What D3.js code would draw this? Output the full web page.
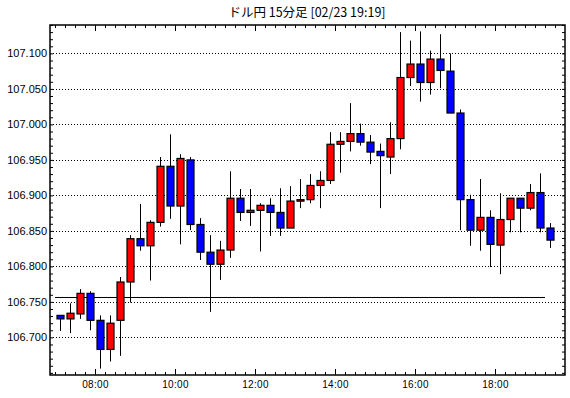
<!DOCTYPE html>
<html>
<head>
<meta charset="utf-8">
<script src="https://cdn.jsdelivr.net/npm/d3@7"></script>
<style>
  body { margin: 0; background: #fff; }
  svg { display: block; }
</style>
</head>
<body>
<div id="chart"></div>
<script>
// 15-minute USD/JPY candles, 07:00 .. 19:15
const times = ['07:00','07:15','07:30','07:45','08:00','08:15','08:30','08:45','09:00','09:15',
  '09:30','09:45','10:00','10:15','10:30','10:45','11:00','11:15','11:30','11:45',
  '12:00','12:15','12:30','12:45','13:00','13:15','13:30','13:45','14:00','14:15',
  '14:30','14:45','15:00','15:15','15:30','15:45','16:00','16:15','16:30','16:45',
  '17:00','17:15','17:30','17:45','18:00','18:15','18:30','18:45','19:00','19:15'];
const opens = [106.731,106.726,106.733,106.762,106.724,106.683,106.724,106.778,106.839,106.829,
  106.862,106.941,106.885,106.950,106.859,106.820,106.803,106.823,106.896,106.876,
  106.879,106.886,106.876,106.854,106.892,106.894,106.914,106.921,106.972,106.976,
  106.987,106.975,106.962,106.954,106.980,107.066,107.085,107.059,107.092,107.075,
  107.016,106.894,106.851,106.869,106.830,106.866,106.896,106.882,106.904,106.854];
const highs = [106.731,106.748,106.768,106.765,106.731,106.731,106.785,106.844,106.888,106.865,
  106.954,106.986,106.958,106.954,106.868,106.844,106.836,106.934,106.909,106.909,
  106.889,106.896,106.910,106.913,106.923,106.930,106.934,106.989,106.989,107.030,
  107.001,106.985,106.973,107.003,107.130,107.118,107.131,107.104,107.127,107.100,
  107.021,106.901,106.923,106.879,106.903,106.896,106.896,106.916,106.931,106.861];
const lows = [106.709,106.706,106.726,106.710,106.656,106.666,106.674,106.749,106.822,106.780,
  106.856,106.867,106.831,106.851,106.809,106.736,106.781,106.812,106.864,106.857,
  106.821,106.843,106.843,106.854,106.882,106.889,106.882,106.916,106.932,106.962,
  106.970,106.944,106.882,106.930,106.965,107.054,107.032,107.042,107.051,107.016,
  106.851,106.829,106.822,106.799,106.789,106.848,106.848,106.879,106.848,106.826];
const closes = [106.726,106.734,106.762,106.724,106.683,106.720,106.778,106.839,106.829,106.862,
  106.941,106.885,106.952,106.859,106.820,106.803,106.823,106.896,106.876,106.879,
  106.886,106.876,106.854,106.892,106.894,106.914,106.921,106.972,106.976,106.987,
  106.975,106.961,106.956,106.980,107.066,107.085,107.059,107.092,107.076,107.016,
  106.894,106.851,106.869,106.831,106.866,106.896,106.882,106.904,106.854,106.837];

const refLevel = 106.757;
const yTicks = [106.700, 106.750, 106.800, 106.850, 106.900, 106.950, 107.000, 107.050, 107.100];
const xTickLabels = ['08:00', '10:00', '12:00', '14:00', '16:00', '18:00'];
const title = 'ドル円 15分足 [02/23 19:19]';

const width = 570, height = 398;
const plot = { left: 50, right: 565, top: 25, bottom: 375 };

const toMin = s => { const p = s.split(':'); return +p[0] * 60 + +p[1]; };

const x = d3.scaleLinear().domain([412.5, 1185]).range([plot.left, plot.right]);
const y = d3.scaleLinear().domain([106.647, 107.140]).range([plot.bottom, plot.top]);

const svg = d3.select('#chart').append('svg')
  .attr('width', width)
  .attr('height', height)
  .style('font-family', '"DejaVu Sans", sans-serif');

// title
svg.append('text')
  .attr('x', 307)
  .attr('y', 17)
  .attr('text-anchor', 'middle')
  .style('font-family', '"Noto Sans CJK JP", sans-serif')
  .style('font-size', '12.5px')
  .text(title);

// dotted grid
svg.append('g')
  .selectAll('line')
  .data(yTicks)
  .enter()
  .append('line')
  .attr('x1', plot.left)
  .attr('x2', plot.right)
  .attr('y1', d => Math.round(y(d)) + 0.5)
  .attr('y2', d => Math.round(y(d)) + 0.5)
  .style('stroke', '#000')
  .style('stroke-width', 1)
  .style('stroke-dasharray', '1,2');

// minor y ticks every 0.01, on both sides
const minorY = d3.range(106.65, 107.1401, 0.01);
const yMinorL = d3.axisLeft(y).tickValues(minorY).tickSize(-3).tickFormat('');
const yMinorR = d3.axisRight(y).tickValues(minorY).tickSize(-3).tickFormat('');
svg.append('g').attr('transform', `translate(${plot.left},0)`).call(yMinorL);
svg.append('g').attr('transform', `translate(${plot.right},0)`).call(yMinorR);

// y labels
const yAxis = d3.axisLeft(y).tickValues(yTicks).tickSize(0).tickPadding(3)
  .tickFormat(d3.format('.3f'));
svg.append('g')
  .attr('class', 'y-axis')
  .attr('transform', `translate(${plot.left},0)`)
  .call(yAxis);

// x ticks: minor every 15 min, major every 2 h, top and bottom
const minorX = d3.range(420, 1185, 15);
const majorX = xTickLabels.map(toMin);
svg.append('g').attr('transform', `translate(0,${plot.bottom})`)
  .call(d3.axisBottom(x).tickValues(minorX).tickSize(-3).tickFormat(''));
svg.append('g').attr('transform', `translate(0,${plot.top})`)
  .call(d3.axisTop(x).tickValues(minorX).tickSize(-3).tickFormat(''));
svg.append('g').attr('transform', `translate(0,${plot.top})`)
  .call(d3.axisTop(x).tickValues(majorX).tickSize(-6).tickFormat(''));
svg.append('g')
  .attr('class', 'x-axis')
  .attr('transform', `translate(0,${plot.bottom})`)
  .call(d3.axisBottom(x).tickValues(majorX).tickSize(-6).tickPadding(6)
    .tickFormat((d, i) => xTickLabels[i]));

svg.selectAll('.domain').remove();
svg.selectAll('.tick line').style('stroke', '#000');
svg.selectAll('.y-axis text')
  .style('font-size', '11px')
  .style('fill', '#000');
svg.selectAll('.x-axis text')
  .style('font-size', '10px')
  .style('letter-spacing', '0.3px')
  .style('fill', '#000');

// reference level
svg.append('line')
  .attr('x1', x(toMin(times[0])))
  .attr('x2', x(toMin(times[times.length - 1])))
  .attr('y1', Math.round(y(refLevel)) + 0.5)
  .attr('y2', Math.round(y(refLevel)) + 0.5)
  .style('stroke', '#000')
  .style('stroke-width', 1);

// candles
const candles = times.map((t, i) => ({
  t: toMin(t) + 7.5,
  o: opens[i], h: highs[i], l: lows[i], c: closes[i]
}));

const g = svg.append('g');
g.selectAll('.wick')
  .data(candles)
  .enter()
  .append('line')
  .attr('class', 'wick')
  .attr('x1', d => Math.round(x(d.t)) + 0.5)
  .attr('x2', d => Math.round(x(d.t)) + 0.5)
  .attr('y1', d => y(d.h))
  .attr('y2', d => y(d.l))
  .style('stroke', '#000')
  .style('stroke-width', 1);

g.selectAll('.body')
  .data(candles)
  .enter()
  .append('rect')
  .attr('class', 'body')
  .attr('x', d => Math.round(x(d.t)) - 3)
  .attr('width', 7)
  .attr('y', d => y(Math.max(d.o, d.c)))
  .attr('height', d => Math.max(1.5, Math.abs(y(d.o) - y(d.c))))
  .style('fill', d => d.c >= d.o ? '#ff0000' : '#0000ff')
  .style('stroke', '#000')
  .style('stroke-width', 1.2);

// frame
svg.append('rect')
  .attr('x', plot.left)
  .attr('y', plot.top)
  .attr('width', plot.right - plot.left)
  .attr('height', plot.bottom - plot.top)
  .style('fill', 'none')
  .style('stroke', '#000')
  .style('stroke-width', 1.5);
</script>
</body>
</html>
